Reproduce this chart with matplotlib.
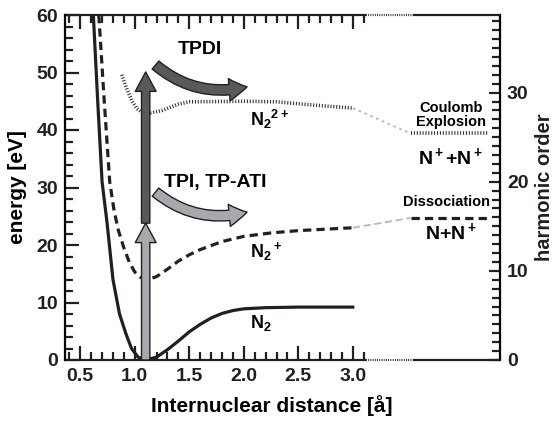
"""Potential energy curves of N2, N2+ and N2++ with ionisation pathways."""

import matplotlib
matplotlib.use("Agg")
import matplotlib.pyplot as plt
from matplotlib.patches import FancyArrowPatch, ArrowStyle

plt.rcParams["font.family"] = ["Liberation Sans", "DejaVu Sans"]
plt.rcParams["font.weight"] = "bold"
plt.rcParams["axes.labelweight"] = "bold"
plt.rcParams["mathtext.fontset"] = "custom"
plt.rcParams["mathtext.rm"] = "Liberation Sans:bold"
plt.rcParams["mathtext.it"] = "Liberation Sans:bold"
plt.rcParams["mathtext.bf"] = "Liberation Sans:bold"

# potential curves
r_n2 = [0.62, 0.66, 0.70, 0.745, 0.80, 0.86, 0.92, 0.97, 1.03, 1.1, 1.2, 1.3,
        1.4, 1.5, 1.6, 1.7, 1.8, 1.9, 2.0, 2.2, 2.5, 3.0]
e_n2 = [60, 45, 31, 24, 14, 8, 4.5, 2, 0.5, 0, 0.5, 1.8,
        3.3, 4.9, 6.2, 7.3, 8.1, 8.6, 8.9, 9.1, 9.2, 9.2]

r_n2p = [0.67, 0.72, 0.77, 0.81, 0.85, 0.9, 0.95, 1.0, 1.05, 1.12, 1.2, 1.3,
         1.4, 1.5, 1.6, 1.8, 2.0, 2.25, 2.5, 3.0]
e_n2p = [60, 45, 31, 26, 22.5, 19.5, 17, 15.3, 14.4, 14.0, 14.5, 15.8,
         17.2, 18.3, 19.2, 20.6, 21.5, 22.1, 22.5, 23.0]

r_n2pp = [0.88, 0.92, 0.97, 1.02, 1.07, 1.15, 1.25, 1.4, 1.5, 2.0, 2.3, 2.6, 3.0]
e_n2pp = [49.6, 47.5, 45.2, 43.7, 43.0, 43.0, 43.4, 44.5, 44.9, 45.0, 44.9, 44.4, 43.8]

# asymptotic limits
r_limit = [3.53, 4.24]
e_diss = 24.7      # N + N+
e_coul = 39.4      # N+ + N+

# photon steps at equilibrium distance
r_eq = 1.1
e_steps = [0, 23.8, 50.1]
photon = 1.55      # eV per harmonic order

xticks = [0.5, 1.0, 1.5, 2.0, 2.5, 3.0]
xlabels = ["0.5", "1.0", "1.5", "2.0", "2.5", "3.0"]

INK = "#231f20"
DARK = "#58595b"
LIGHT = "#a7a9ac"
THIN = "#b3b8c0"

fig = plt.figure(figsize=(5.55, 4.24), dpi=100)
ax = fig.add_axes([65 / 555, 64 / 424, 435 / 555, 345 / 424])
ax.set_xlim(0.36, 4.35)
ax.set_ylim(0, 60)

ax.plot(r_n2, e_n2, color=INK, lw=2.3, solid_joinstyle="miter")
ax.plot(r_n2p, e_n2p, color=INK, lw=2.3, ls=(0, (2.6, 1.6)))
ax.plot(r_n2pp, e_n2pp, color="#333333", lw=2.6, ls=(0, (0.3, 0.5)))

ax.plot([r_n2p[-1], r_limit[0]], [e_n2p[-1], e_diss], color=THIN, lw=1.3, ls=(0, (4, 2)))
ax.plot(r_limit, [e_diss, e_diss], color=INK, lw=2.3, ls=(0, (2.6, 1.6)))
ax.plot([r_n2pp[-1], r_limit[0]], [e_n2pp[-1], e_coul], color=THIN, lw=1.3, ls=(0, (1.5, 2)))
ax.plot(r_limit, [e_coul, e_coul], color="#333333", lw=2.6, ls=(0, (0.3, 0.5)))

# vertical photon arrows
vstyle = ArrowStyle.Simple(head_length=14, head_width=15, tail_width=6)
for (a, b), col in zip([(e_steps[0], e_steps[1]), (e_steps[1], e_steps[2])], [LIGHT, DARK]):
    ax.add_patch(FancyArrowPatch((r_eq, a), (r_eq, b), arrowstyle=vstyle, mutation_scale=1,
                                 shrinkA=0, shrinkB=0, fc=col, ec=INK, lw=1.0, zorder=4))

# curved pathway arrows
cstyle = ArrowStyle.Simple(head_length=13, head_width=16, tail_width=7.5)
for (p0, p1), col in zip([((1.19, 51.3), (2.03, 47.5)), ((1.19, 29.2), (2.03, 25.7))], [DARK, LIGHT]):
    ax.add_patch(FancyArrowPatch(p0, p1, arrowstyle=cstyle, mutation_scale=1,
                                 connectionstyle="arc3,rad=0.25", shrinkA=0, shrinkB=0,
                                 fc=col, ec=INK, lw=1.0, zorder=4))

ax.text(1.6, 54, "TPDI", fontsize=14, ha="center", va="center")
ax.text(1.74, 30.8, "TPI, TP-ATI", fontsize=14, ha="center", va="center")
ax.text(2.06, 41.8, r"N$_2$$^{2+}$", fontsize=13, ha="left", va="center")
ax.text(2.06, 18.8, r"N$_2$$^+$", fontsize=13, ha="left", va="center")
ax.text(2.06, 6.4, r"N$_2$", fontsize=13, ha="left", va="center")
ax.text(3.9, 42.6, "Coulomb\nExplosion", fontsize=10.5, ha="center", va="center",
        linespacing=0.95)
ax.text(3.9, 35.3, r"N$^+$+N$^+$", fontsize=14, ha="center", va="center")
ax.text(3.86, 27.5, "Dissociation", fontsize=10.5, ha="center", va="center")
ax.text(3.9, 22.2, r"N+N$^+$", fontsize=14, ha="center", va="center")

# broken x axis (bottom and top)
for sp in ("bottom", "top", "right"):
    ax.spines[sp].set_visible(False)
ax.spines["left"].set_linewidth(1.6)
tr = ax.get_xaxis_transform()
for yy in (0, 1):
    ax.plot([0.36, 3.12], [yy, yy], transform=tr, color=INK, lw=1.6, clip_on=False,
            solid_capstyle="butt")
    ax.plot([3.12, 3.55], [yy, yy], transform=tr, color=INK, lw=1.6, clip_on=False,
            ls=(0, (0.4, 0.6)))
    ax.plot([3.55, 4.35], [yy, yy], transform=tr, color=INK, lw=1.6, clip_on=False,
            solid_capstyle="butt")

ax.set_xticks(xticks, xlabels)
ax.set_xticks([0.4 + 0.1 * i for i in range(28)], minor=True)
ax.set_yticks(range(0, 61, 10))
ax.set_yticks(range(0, 61, 2), minor=True)
ax.tick_params(which="both", direction="in", top=True, right=False, colors=INK,
               labelsize=14, width=1.6)
ax.tick_params(which="major", length=10)
ax.tick_params(which="minor", length=5.5)
ax.tick_params(axis="x", pad=6)
ax.tick_params(axis="y", pad=5)

sec = ax.secondary_yaxis("right", functions=(lambda e: e / photon, lambda h: h * photon))
sec.spines["right"].set_linewidth(1.6)
sec.set_yticks([0, 10, 20, 30])
sec.set_yticks(range(0, 39), minor=True)
sec.tick_params(which="both", direction="in", colors=INK, labelsize=14, width=1.6, pad=5)
sec.tick_params(which="major", length=8)
sec.tick_params(which="minor", length=5.5)

ax.set_ylabel("energy [eV]", fontsize=15, va="center")
ax.yaxis.set_label_coords(-0.110, 0.5)
fig.text(545 / 555, 1 - 187 / 424, "harmonic order", fontsize=14.5, fontweight="bold",
         rotation=90, ha="center", va="center", color=INK)
ax.set_xlabel("Internuclear distance [å]", fontsize=15, va="center")
ax.xaxis.set_label_coords(0.476, -0.133)

fig.savefig("out.png", dpi=100)
